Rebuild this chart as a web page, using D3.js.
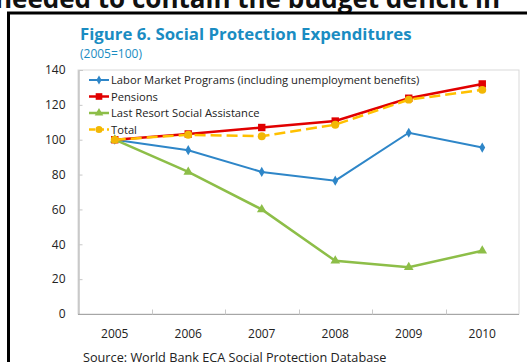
<!DOCTYPE html>
<html>
<head>
<meta charset="utf-8">
<script src="https://cdn.jsdelivr.net/npm/d3@7"></script>
<style>
  html, body { margin: 0; padding: 0; background: #fff; }
  svg { display: block; }
  text { font-family: "Open Sans", sans-serif; }
</style>
</head>
<body>
<svg id="chart" width="527" height="362"></svg>
<script>
// Social protection expenditures, index 2005 = 100
const years = ["2005", "2006", "2007", "2008", "2009", "2010"];
const laborMarket = [100, 94, 81.5, 76.5, 104, 95.5];
const pensions = [100, 103.3, 107, 110.7, 123.8, 132];
const lastResort = [100, 81.5, 60, 30.5, 26.8, 36.3];
const total = [100, 102.8, 102, 108.6, 123, 128.6];
const yTicks = [0, 20, 40, 60, 80, 100, 120, 140];

const seriesList = [
  { name: "Labor Market Programs (including unemployment benefits)", values: laborMarket, color: "#2E86C8", width: 2, marker: d3.symbolDiamond, size: 30, dash: null },
  { name: "Pensions", values: pensions, color: "#E10000", width: 2.5, marker: d3.symbolSquare, size: 55, dash: null },
  { name: "Last Resort Social Assistance", values: lastResort, color: "#8DBE48", width: 2.5, marker: d3.symbolTriangle, size: 40, dash: null },
  { name: "Total", values: total, color: "#FFC000", width: 2.5, marker: d3.symbolCircle, size: 50, dash: "11,5", markerFill: "#F2B705" }
];

const svg = d3.select("#chart");

// Running text above the figure box (clipped by the page edge)
svg.append("text")
  .attr("x", 500).attr("y", 8)
  .attr("text-anchor", "end")
  .attr("font-size", 26).attr("font-weight", 700)
  .attr("fill", "#111")
  .text("needed to contain the budget deficit in");

// Figure frame
svg.append("path")
  .attr("d", "M8.5,362 V13 H530")
  .attr("fill", "none").attr("stroke", "#000").attr("stroke-width", 3);

// Title and subtitle
svg.append("text")
  .attr("x", 80).attr("y", 40)
  .attr("font-size", 16.8).attr("font-weight", 700)
  .attr("fill", "#1A8CC2")
  .text("Figure 6. Social Protection Expenditures");
svg.append("text")
  .attr("x", 80).attr("y", 58)
  .attr("font-size", 12)
  .attr("fill", "#1A8CC2")
  .text("(2005=100)");

const plot = { left: 78, right: 519, top: 70, bottom: 314 };

const x = d3.scaleBand().domain(years).range([plot.left, plot.right]);
const y = d3.scaleLinear().domain([0, 140]).range([plot.bottom, plot.top]);

// Plot area border
svg.append("rect")
  .attr("x", plot.left).attr("y", plot.top)
  .attr("width", plot.right - plot.left).attr("height", plot.bottom - plot.top)
  .attr("fill", "none").attr("stroke", "#D9D9D9").attr("stroke-width", 1);

// Y axis
const yAxis = svg.append("g")
  .attr("transform", `translate(${plot.left + 0.5},0)`)
  .call(d3.axisRight(y).tickValues(yTicks).tickSize(4).tickFormat(d3.format("d")));
yAxis.select(".domain").attr("stroke", "#A6A6A6");
yAxis.selectAll(".tick line").attr("stroke", "#C8C8C8");
yAxis.selectAll(".tick text")
  .attr("x", -13).attr("text-anchor", "end")
  .attr("font-family", "Open Sans, sans-serif")
  .attr("font-size", 12).attr("fill", "#222");

// X axis: ticks sit on category boundaries, labels at band centres
const xAxis = svg.append("g")
  .attr("transform", `translate(0,${plot.bottom + 0.5})`);
xAxis.append("line")
  .attr("x1", plot.left).attr("x2", plot.right)
  .attr("stroke", "#A6A6A6");
xAxis.selectAll("line.tk")
  .data(years.slice(1))
  .join("line")
  .attr("class", "tk")
  .attr("x1", d => Math.round(x(d)) + 0.5).attr("x2", d => Math.round(x(d)) + 0.5)
  .attr("y1", 0).attr("y2", -5)
  .attr("stroke", "#C8C8C8");
xAxis.selectAll("text")
  .data(years)
  .join("text")
  .attr("x", d => x(d) + x.bandwidth() / 2)
  .attr("y", 23)
  .attr("text-anchor", "middle")
  .attr("font-size", 12).attr("fill", "#222")
  .text(d => d);

// Series lines and markers
const line = d3.line()
  .x((d, i) => x(years[i]) + x.bandwidth() / 2)
  .y(d => y(d));

seriesList.forEach(s => {
  const g = svg.append("g");
  g.append("path")
    .datum(s.values)
    .attr("d", line)
    .attr("fill", "none")
    .attr("stroke", s.color)
    .attr("stroke-width", s.width)
    .attr("stroke-dasharray", s.dash);
  g.selectAll("path.mk")
    .data(s.values)
    .join("path")
    .attr("class", "mk")
    .attr("transform", (d, i) => `translate(${x(years[i]) + x.bandwidth() / 2},${y(d)})`)
    .attr("d", d3.symbol().type(s.marker).size(s.size))
    .attr("fill", s.markerFill || s.color);
});

// Legend
const legend = svg.append("g").attr("transform", "translate(89,80)");
seriesList.forEach((s, i) => {
  const row = legend.append("g").attr("transform", `translate(0,${i * 16.5})`);
  row.append("line")
    .attr("x1", 0).attr("x2", 20)
    .attr("stroke", s.color).attr("stroke-width", s.width)
    .attr("stroke-dasharray", s.dash ? "6,3" : null);
  row.append("path")
    .attr("transform", "translate(10,0)")
    .attr("d", d3.symbol().type(s.marker).size(s.size * 0.8))
    .attr("fill", s.markerFill || s.color);
  row.append("text")
    .attr("x", 22).attr("y", 4)
    .attr("font-size", 11.2).attr("fill", "#222")
    .text(s.name);
});

// Source note
svg.append("text")
  .attr("x", 83).attr("y", 362)
  .attr("font-size", 12.7).attr("fill", "#222")
  .text("Source: World Bank ECA Social Protection Database");
</script>
</body>
</html>
